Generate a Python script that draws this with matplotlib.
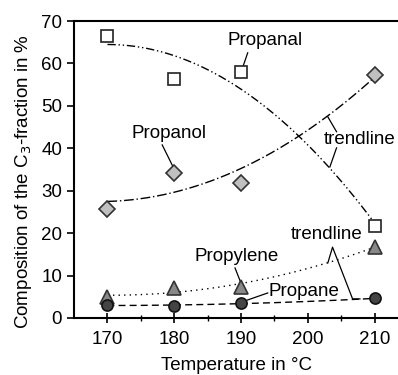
import numpy as np
import matplotlib.pyplot as plt

plt.rcParams['font.family'] = ['Liberation Sans', 'DejaVu Sans']

temps = [170, 180, 190, 210]
propanal = [66.5, 56.4, 58.0, 21.7]
propanol = [25.8, 34.1, 31.9, 57.3]
propylene = [5.0, 7.0, 7.4, 16.8]
propane = [3.0, 2.9, 3.5, 4.6]

fig = plt.figure(figsize=(3.98, 3.75), dpi=100)
ax = fig.add_axes([0.186, 0.152, 0.814, 0.792])

# trendlines: 2nd order polynomial fits
xx = np.linspace(170, 210, 200)
for ys, ls in [(propanal, (0, (6, 2, 1, 2, 1, 2))), (propanol, (0, (7, 2, 1, 2))),
               (propylene, (0, (1, 3))), (propane, (0, (5, 3)))]:
    c = np.polyfit(temps, ys, 2)
    ax.plot(xx, np.polyval(c, xx), color='black', lw=1.0, ls=ls, zorder=1)

ax.plot(temps, propanal, 's', ms=8, mfc='white', mec='#222222', mew=1.2, zorder=3)
ax.plot(temps, propanol, 'D', ms=8.5, mfc='#c0c0c0', mec='#333333', mew=1.2, zorder=3)
ax.plot(temps, propylene, '^', ms=9.5, mfc='#888888', mec='#333333', mew=1.2, zorder=3)
ax.plot(temps, propane, 'o', ms=8, mfc='#444444', mec='#111111', mew=1.2, zorder=3)

ax.set_xlim(165, 213.5)
ax.set_ylim(0, 70)
ax.set_xticks([170, 180, 190, 200, 210])
ax.set_xticks([175, 185, 195, 205], minor=True)
ax.set_yticks(range(0, 71, 10))
ax.tick_params(axis='both', labelsize=13.5, width=1.2, length=5)
ax.tick_params(axis='x', direction='inout', length=7, pad=6)
ax.tick_params(axis='x', which='minor', direction='inout', length=5, width=1)
ax.spines['right'].set_visible(False)
for s in ['left', 'bottom', 'top']:
    ax.spines[s].set_linewidth(1.5)

ax.set_xlabel('Temperature in °C', fontsize=13.5, labelpad=6)
ax.set_ylabel('Composition of the C$_3$-fraction in %', fontsize=13.5)
ax.yaxis.set_label_coords(-0.125, 0.46)

lab = dict(fontsize=13.5, ha='center', va='center')
ln = dict(color='black', lw=0.9)

ax.text(193.6, 65.3, 'Propanal', **lab)
ax.plot([191.0, 190.3], [62.5, 59.3], **ln)
ax.text(179.2, 43.6, 'Propanol', **lab)
ax.plot([178.2, 179.9], [40.8, 35.4], **ln)
ax.text(189.4, 14.4, 'Propylene', **lab)
ax.plot([189.1, 189.9], [11.8, 8.6], **ln)
ax.text(199.4, 6.3, 'Propane', **lab)
ax.plot([194.0, 190.9], [5.9, 4.2], **ln)

ax.text(207.8, 42.0, 'trendline', **lab)
ax.plot([203.0, 204.3], [47.4, 43.9], **ln)
ax.plot([204.3, 203.3], [40.1, 35.6], **ln)

ax.text(202.8, 19.6, 'trendline', **lab)
ax.plot([203.0, 203.7, 206.7, 207.8], [13.0, 16.7, 4.5, 4.5], **ln)

fig.savefig('out.png', dpi=100)
